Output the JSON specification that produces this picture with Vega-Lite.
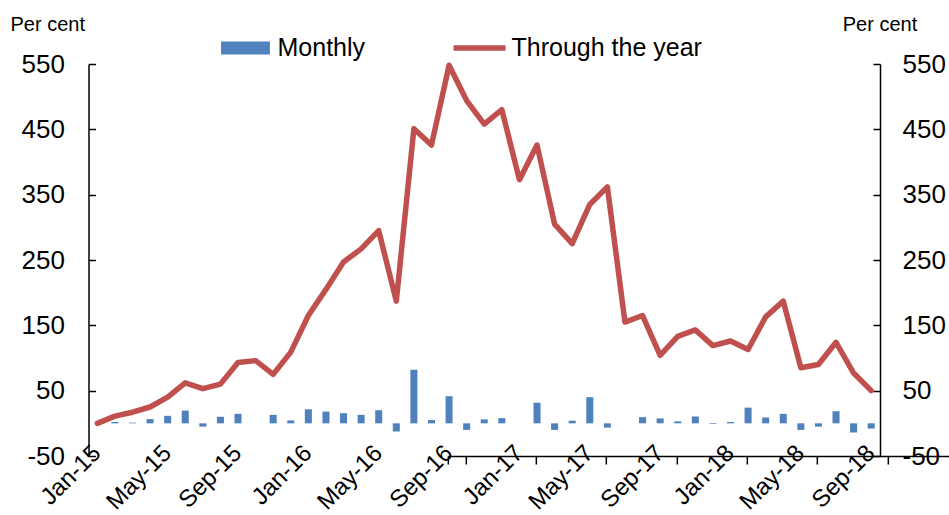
{
  "$schema": "https://vega.github.io/schema/vega-lite/v6.json",
  "autosize": "none",
  "width": 791.5,
  "height": 392,
  "padding": {"left": 88.5, "top": 64, "right": 69, "bottom": 59},
  "background": "white",
  "config": {
    "view": {"stroke": null},
    "font": "Liberation Sans",
    "axis": {"grid": false, "domainColor": "black", "tickColor": "black", "domainWidth": 1.5, "tickWidth": 1.5, "labelColor": "black", "labelFont": "Liberation Sans", "titleFont": "Liberation Sans"}
  },
  "data": {"values": [
    {"month": "Jan-15", "monthly": 0, "yoy": 0},
    {"month": "Feb-15", "monthly": 2, "yoy": 11},
    {"month": "Mar-15", "monthly": 1, "yoy": 17},
    {"month": "Apr-15", "monthly": 6.5, "yoy": 25},
    {"month": "May-15", "monthly": 11.5, "yoy": 40},
    {"month": "Jun-15", "monthly": 19.5, "yoy": 62},
    {"month": "Jul-15", "monthly": -5, "yoy": 53},
    {"month": "Aug-15", "monthly": 10, "yoy": 60},
    {"month": "Sep-15", "monthly": 14.5, "yoy": 93},
    {"month": "Oct-15", "monthly": 0, "yoy": 96},
    {"month": "Nov-15", "monthly": 13, "yoy": 75},
    {"month": "Dec-15", "monthly": 4.5, "yoy": 109},
    {"month": "Jan-16", "monthly": 21.5, "yoy": 165},
    {"month": "Feb-16", "monthly": 18, "yoy": 205},
    {"month": "Mar-16", "monthly": 15.5, "yoy": 247},
    {"month": "Apr-16", "monthly": 13, "yoy": 267},
    {"month": "May-16", "monthly": 20, "yoy": 295},
    {"month": "Jun-16", "monthly": -12.5, "yoy": 187},
    {"month": "Jul-16", "monthly": 82, "yoy": 451},
    {"month": "Aug-16", "monthly": 5, "yoy": 426},
    {"month": "Sep-16", "monthly": 41.5, "yoy": 548},
    {"month": "Oct-16", "monthly": -10, "yoy": 494},
    {"month": "Nov-16", "monthly": 6, "yoy": 458},
    {"month": "Dec-16", "monthly": 8, "yoy": 480},
    {"month": "Jan-17", "monthly": 0, "yoy": 373},
    {"month": "Feb-17", "monthly": 31.5, "yoy": 426},
    {"month": "Mar-17", "monthly": -10, "yoy": 305},
    {"month": "Apr-17", "monthly": 4, "yoy": 275},
    {"month": "May-17", "monthly": 40, "yoy": 335},
    {"month": "Jun-17", "monthly": -6.5, "yoy": 362},
    {"month": "Jul-17", "monthly": 0, "yoy": 155},
    {"month": "Aug-17", "monthly": 9.5, "yoy": 165},
    {"month": "Sep-17", "monthly": 7.5, "yoy": 104},
    {"month": "Oct-17", "monthly": 3, "yoy": 133},
    {"month": "Nov-17", "monthly": 10.5, "yoy": 143},
    {"month": "Dec-17", "monthly": -1, "yoy": 119},
    {"month": "Jan-18", "monthly": 2, "yoy": 126},
    {"month": "Feb-18", "monthly": 24, "yoy": 113},
    {"month": "Mar-18", "monthly": 9, "yoy": 163},
    {"month": "Apr-18", "monthly": 14.5, "yoy": 187},
    {"month": "May-18", "monthly": -10, "yoy": 85},
    {"month": "Jun-18", "monthly": -5, "yoy": 90},
    {"month": "Jul-18", "monthly": 18.5, "yoy": 124},
    {"month": "Aug-18", "monthly": -14, "yoy": 77},
    {"month": "Sep-18", "monthly": -8, "yoy": 50}
  ]},
  "layer": [
    {
      "mark": {"type": "bar", "width": {"band": 0.4}, "color": "#4F81BD"},
      "encoding": {
        "x": {"field": "month", "type": "ordinal", "sort": null,
          "scale": {"paddingInner": 0, "paddingOuter": 0},
          "axis": {"orient": "bottom", "position": 359.33, "labels": false, "title": null,
            "tickBand": "extent", "tickSize": 8,
            "values": ["Jan-15","May-15","Sep-15","Jan-16","May-16","Sep-16","Jan-17","May-17","Sep-17","Jan-18","May-18","Sep-18"]}},
        "y": {"field": "monthly", "type": "quantitative",
          "scale": {"domain": [-50, 550], "nice": false, "zero": false},
          "axis": {"orient": "left", "values": [-50, 50, 150, 250, 350, 450, 550], "tickSize": -7, "labelFontSize": 26, "labelPadding": 31,
            "labelExpr": "'' + datum.value",
            "title": "Per cent", "titleAngle": 0, "titleX": -78.5, "titleY": -40, "titleAlign": "left", "titleBaseline": "middle", "titleFontSize": 20, "titleFontWeight": "normal", "titleColor": "black"}},
        "color": {"datum": "Monthly", "type": "nominal",
          "scale": {"domain": ["Monthly", "Through the year"], "range": ["#4F81BD", "#C0504D"]},
          "legend": {"orient": "none", "legendX": 131, "legendY": -42, "direction": "horizontal", "title": null,
            "labelFontSize": 25, "labelFont": "Liberation Sans", "labelColor": "black", "labelLimit": 400,
            "symbolSize": 2704, "labelOffset": 6, "columnPadding": 88, "symbolStrokeWidth": 0,
            "encode": {"symbols": {"update": {
              "shape": {"signal": "datum.value === 'Monthly' ? 'M-0.94,-0.25H0.94V0.25H-0.94Z' : 'M-1,-0.11H1V0.11H-1Z'"},
              "fill": {"signal": "datum.value === 'Monthly' ? '#4F81BD' : '#C0504D'"},
              "strokeWidth": {"value": 0}
            }}}}}
      }
    },
    {
      "mark": {"type": "line", "color": "#C0504D", "strokeWidth": 5.5, "strokeJoin": "round", "strokeCap": "round"},
      "encoding": {
        "x": {"field": "month", "type": "ordinal", "sort": null,
          "axis": {"orient": "bottom", "domain": false, "ticks": false, "title": null,
            "labelAngle": -45, "labelAlign": "right", "labelBaseline": "middle", "labelPadding": -7, "labelFontSize": 24,
            "values": ["Jan-15","May-15","Sep-15","Jan-16","May-16","Sep-16","Jan-17","May-17","Sep-17","Jan-18","May-18","Sep-18"]}},
        "y": {"field": "yoy", "type": "quantitative",
          "axis": {"orient": "right", "values": [-50, 50, 150, 250, 350, 450, 550], "tickSize": -7, "labelFontSize": 26, "labelPadding": 29,
            "labelExpr": "'' + datum.value",
            "title": "Per cent", "titleAngle": 0, "titleX": 36.7, "titleY": -40, "titleAlign": "right", "titleBaseline": "middle", "titleFontSize": 20, "titleFontWeight": "normal", "titleColor": "black"}},
        "color": {"datum": "Through the year", "type": "nominal"}
      }
    }
  ],
  "resolve": {"axis": {"x": "independent", "y": "independent"}}
}
